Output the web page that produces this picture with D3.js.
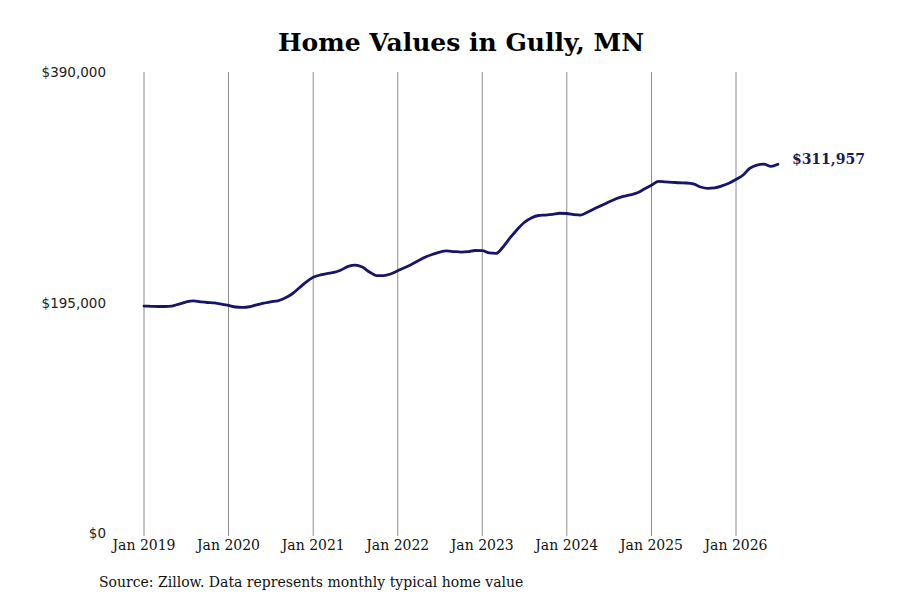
<!DOCTYPE html>
<html>
<head>
<meta charset="utf-8">
<script src="https://cdn.jsdelivr.net/npm/d3@7"></script>
<style>
  body { margin: 0; background: #fff; }
  svg { display: block; }
</style>
</head>
<body>
<svg width="900" height="600"></svg>
<script>
// monthly typical home value, Jan 2019 .. Jul 2026
const startMonth = new Date(2019, 0, 1);
const homeValues = [
    192000, 191800, 191600, 191600, 192000, 193700, 195400, 196300, 195600, 195000, 194600, 193700,
    192500, 191200, 190900, 191400, 193000, 194400, 195600, 196400, 198800, 202200, 207300, 212300,
    216300, 218300, 219500, 220400, 222500, 225500, 226700, 225000, 220800, 217800, 217800, 219100,
    221900, 224600, 227200, 230500, 233500, 235800, 237700, 238600, 238100, 237700, 238000, 239000,
    238800, 236900, 236500, 242000, 249600, 256800, 262700, 266500, 268600, 269000, 269600, 270500,
    270300, 269400, 269000, 271600, 274500, 277200, 280000, 282800, 284700, 286000, 287800, 291000,
    294200, 297400, 297000, 296700, 296300, 296100, 295300, 292700, 291600, 292000, 293600, 295800,
    299100, 302900, 308400, 311300, 312000, 310200, 311957
];
const yearTicks = [2019, 2020, 2021, 2022, 2023, 2024, 2025, 2026];
const valueTicks = [0, 195000, 390000];

const months = d3.timeMonth.range(startMonth, d3.timeMonth.offset(startMonth, homeValues.length));
const data = months.map((d, i) => ({ date: d, value: homeValues[i] }));

const svg = d3.select("svg");

const x = d3.scaleTime()
    .domain([new Date(2019, 0, 1), new Date(2026, 0, 1)])
    .range([144, 736]);

const y = d3.scaleLinear()
    .domain([0, 390000])
    .range([533, 72]);

svg.append("text")
    .attr("x", 461)
    .attr("y", 51)
    .attr("text-anchor", "middle")
    .attr("font-family", "DejaVu Serif")
    .attr("font-weight", "bold")
    .attr("font-size", 25)
    .attr("fill", "#000")
    .text("Home Values in Gully, MN");

// vertical year gridlines
const tickDates = yearTicks.map(yr => new Date(yr, 0, 1));
svg.append("g")
    .selectAll("line")
    .data(tickDates)
    .enter()
    .append("line")
    .attr("x1", d => x(d))
    .attr("x2", d => x(d))
    .attr("y1", y(390000))
    .attr("y2", y(0) + 3)
    .attr("stroke", "#8c8c8c")
    .attr("stroke-width", 1);

svg.append("g")
    .selectAll("text")
    .data(tickDates)
    .enter()
    .append("text")
    .attr("x", d => x(d))
    .attr("y", 550)
    .attr("text-anchor", "middle")
    .attr("font-family", "DejaVu Serif")
    .attr("font-size", 14)
    .attr("fill", "#111")
    .text(d3.timeFormat("Jan %Y"));

const money = d3.format("$,");
svg.append("g")
    .selectAll("text")
    .data(valueTicks)
    .enter()
    .append("text")
    .attr("x", 106)
    .attr("y", d => y(d))
    .attr("dy", "0.38em")
    .attr("text-anchor", "end")
    .attr("font-family", "DejaVu Sans")
    .attr("font-size", 13.5)
    .attr("fill", "#222")
    .text(d => money(d));

const line = d3.line()
    .x(d => x(d.date))
    .y(d => y(d.value))
    .curve(d3.curveMonotoneX);

svg.append("path")
    .datum(data)
    .attr("fill", "none")
    .attr("stroke", "#17156a")
    .attr("stroke-width", 2.8)
    .attr("stroke-linejoin", "round")
    .attr("stroke-linecap", "round")
    .attr("d", line);

const last = data[data.length - 1];
svg.append("text")
    .attr("x", x(last.date) + 14)
    .attr("y", y(last.value))
    .attr("dy", "0em")
    .attr("font-family", "DejaVu Serif")
    .attr("font-weight", "bold")
    .attr("font-size", 14)
    .attr("fill", "#1b1a5c")
    .text(money(last.value));

svg.append("text")
    .attr("x", 99)
    .attr("y", 587)
    .attr("font-family", "DejaVu Serif")
    .attr("font-size", 14)
    .attr("fill", "#111")
    .text("Source: Zillow. Data represents monthly typical home value");
</script>
</body>
</html>
